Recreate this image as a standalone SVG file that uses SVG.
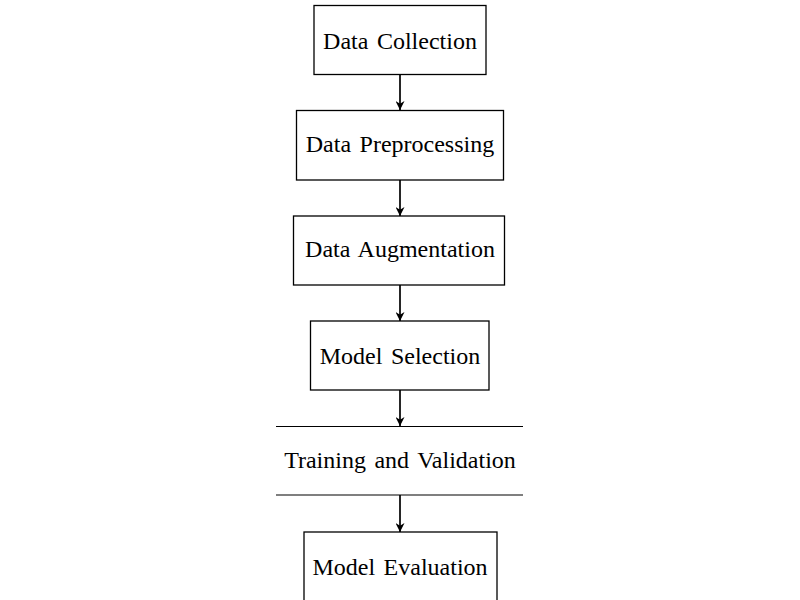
<svg xmlns="http://www.w3.org/2000/svg" width="800" height="600" viewBox="0 0 800 600">
<style>
.box{fill:#fff;stroke:#000;stroke-width:1.3}
.lbl{font-family:"Liberation Serif","Times New Roman",serif;font-size:24px;fill:#000;text-anchor:middle;word-spacing:2.5px}
.edge{stroke:#000;stroke-width:1.7;fill:none;marker-end:url(#arr)}
.hl{stroke:#000;stroke-width:1.2}
</style>
<defs>
<marker id="arr" viewBox="0 0 10 10" refX="10" refY="5" markerWidth="9" markerHeight="9" markerUnits="userSpaceOnUse" orient="auto">
<path d="M0,0 L10,5 L0,10 L3,5 Z" fill="#000"/>
</marker>
</defs>
<rect width="800" height="600" fill="#fff"/>
<g id="connectors">
<line class="edge" x1="400" y1="75" x2="400" y2="110"/>
<line class="edge" x1="400" y1="180" x2="400" y2="216"/>
<line class="edge" x1="400" y1="285" x2="400" y2="321"/>
<line class="edge" x1="400" y1="390" x2="400" y2="426"/>
<line class="edge" x1="400" y1="495" x2="400" y2="532"/>
</g>
<g id="n1"><rect class="box" x="314" y="5.5" width="172" height="69"/><text class="lbl" x="400" y="48.5">Data Collection</text></g>
<g id="n2"><rect class="box" x="296.5" y="110.5" width="207" height="69.5"/><text class="lbl" x="400" y="151.5">Data Preprocessing</text></g>
<g id="n3"><rect class="box" x="293.5" y="216" width="211" height="69"/><text class="lbl" x="400" y="256.5">Data Augmentation</text></g>
<g id="n4"><rect class="box" x="310.5" y="321" width="178.5" height="69"/><text class="lbl" x="400" y="363.5">Model Selection</text></g>
<g id="n5"><line class="hl" x1="276" y1="426.5" x2="523" y2="426.5"/><line class="hl" x1="276" y1="495" x2="523" y2="495"/><text class="lbl" x="400" y="467.5">Training and Validation</text></g>
<g id="n6"><rect class="box" x="304" y="532" width="193" height="80"/><text class="lbl" x="400" y="574.5">Model Evaluation</text></g>
</svg>
